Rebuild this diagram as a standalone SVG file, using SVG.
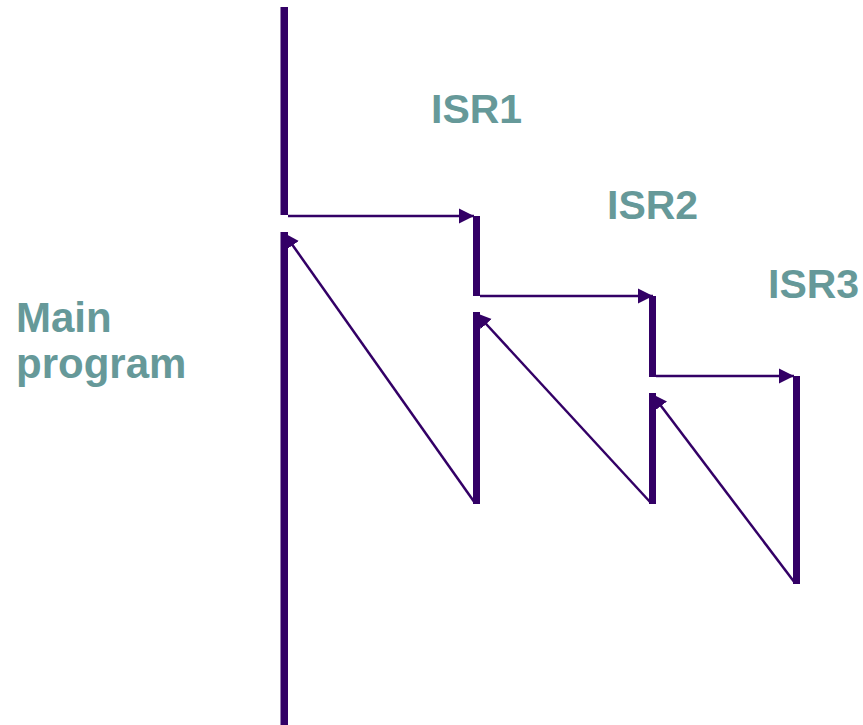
<svg xmlns="http://www.w3.org/2000/svg" width="863" height="725" viewBox="0 0 863 725">
<style>
.bar{fill:#330066}
.ln{stroke:#330066;stroke-width:2.5;fill:none}
.lbl{font-family:"Liberation Sans",Arial,sans-serif;font-weight:bold;font-size:41px;fill:#669999}
.big{font-size:42px}
</style>
<defs>
<marker id="ah" markerUnits="userSpaceOnUse" markerWidth="16" markerHeight="16" viewBox="0 0 16 16" refX="15" refY="8" orient="auto">
<path d="M0,0.5 L15,8 L0,15.5 Z" fill="#330066"/>
</marker>
</defs>
<rect width="863" height="725" fill="#fff"/>
<g id="main">
<rect class="bar" x="280.5" y="7" width="7.5" height="208"/>
<rect class="bar" x="280.5" y="232" width="7.5" height="493"/>
<text class="lbl big" x="16" y="332">Main</text>
<text class="lbl big" x="16" y="378">program</text>
</g>
<g id="isr1">
<rect class="bar" x="473" y="216" width="7" height="80"/>
<rect class="bar" x="473" y="312" width="7" height="192"/>
<text class="lbl" x="431" y="123">ISR1</text>
</g>
<g id="isr2">
<rect class="bar" x="649" y="296" width="7" height="81"/>
<rect class="bar" x="649" y="393" width="7" height="111"/>
<text class="lbl" x="607" y="219">ISR2</text>
</g>
<g id="isr3">
<rect class="bar" x="793" y="376" width="7" height="208"/>
<text class="lbl" x="768" y="298">ISR3</text>
</g>
<g id="connectors">
<line class="ln" x1="288" y1="216" x2="474" y2="216" marker-end="url(#ah)"/>
<line class="ln" x1="480" y1="296" x2="653" y2="296" marker-end="url(#ah)"/>
<line class="ln" x1="656" y1="376" x2="794" y2="376" marker-end="url(#ah)"/>
<line class="ln" x1="475" y1="503" x2="284" y2="233" marker-end="url(#ah)"/>
<line class="ln" x1="651" y1="503" x2="476" y2="313" marker-end="url(#ah)"/>
<line class="ln" x1="795" y1="583" x2="652" y2="394" marker-end="url(#ah)"/>
</g>
</svg>
